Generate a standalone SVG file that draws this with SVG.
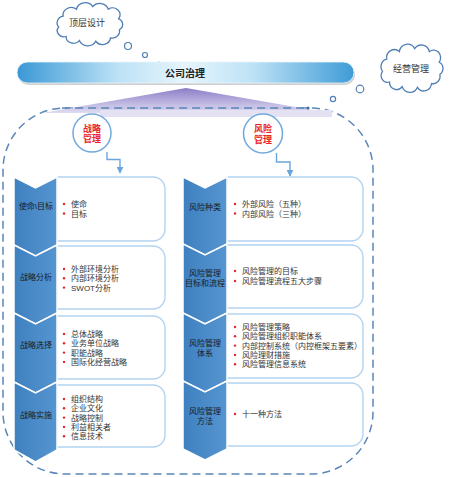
<svg xmlns="http://www.w3.org/2000/svg" width="450" height="477" viewBox="0 0 450 477">
<defs>
<style>
text{font-family:"Liberation Sans","Noto Sans CJK SC",sans-serif;}
.cloud{fill:#fff;stroke:#4f7fb5;stroke-width:1.3;}
.bub{fill:#fff;stroke:#4f7fb5;stroke-width:1.2;}
.dot{fill:#3f6fa5;}
.ct{font-size:9px;fill:#333;text-anchor:middle;dominant-baseline:central;}
.chev{fill:url(#chevG);stroke:#fff;stroke-width:1.5;}
.box{fill:#fff;stroke:#b4d4f0;stroke-width:1.4;}
.lab{font-size:8px;fill:#1a1a1a;text-anchor:middle;dominant-baseline:central;}
.item{font-size:8px;fill:#333;dominant-baseline:central;}
.bul{fill:#e8222a;}
.circ{fill:#fff;stroke:#72a9dd;stroke-width:1.5;}
.red{font-size:9px;font-weight:bold;fill:#e8222a;text-anchor:middle;dominant-baseline:central;}
.conn{fill:none;stroke:#6aa5dc;stroke-width:1.4;}
</style>
<linearGradient id="barG" x1="0" y1="0" x2="1" y2="0">
<stop offset="0" stop-color="#3a98d5"/>
<stop offset="0.3" stop-color="#bde2f6"/>
<stop offset="0.5" stop-color="#e6f5fc"/>
<stop offset="0.7" stop-color="#bde2f6"/>
<stop offset="1" stop-color="#3f9cd7"/>
</linearGradient>
<linearGradient id="triG" x1="0" y1="0" x2="0" y2="1">
<stop offset="0" stop-color="#7f6fc0"/>
<stop offset="1" stop-color="#dcd8f0"/>
</linearGradient>
<linearGradient id="chevG" x1="0" y1="0" x2="1" y2="0">
<stop offset="0" stop-color="#3f80c0"/>
<stop offset="1" stop-color="#5595d0"/>
</linearGradient>
<marker id="arr" viewBox="0 0 10 10" refX="9" refY="5" markerWidth="5" markerHeight="5" orient="auto">
<path d="M0,0 L10,5 L0,10 z" fill="#6aa5dc"/>
</marker>
<path id="cloudP" vector-effect="non-scaling-stroke" d="M20,50 A9,9 0 0 1 10,36 A10,10 0 0 1 16,20 A11,11 0 0 1 34,10 A12,12 0 0 1 56,6 A12,12 0 0 1 77,10 A10,10 0 0 1 91,24 A9,9 0 0 1 92,40 A10,10 0 0 1 80,52 A11,11 0 0 1 60,57 A12,12 0 0 1 38,56 A10,10 0 0 1 20,50 Z"/>
</defs>

<rect width="450" height="477" fill="#fff"/>

<!-- dashed boundary -->
<g id="boundary">
<rect x="3" y="108" width="370" height="366" rx="62" ry="62" fill="none" stroke="#5a87b8" stroke-width="1.5" stroke-dasharray="8,5"/>
</g>

<!-- purple triangle -->
<g id="fan">
<polygon points="186,88 42,113 330,113" fill="url(#triG)" opacity="0.9"/>
<rect x="100" y="110" width="232" height="7" fill="#e4e1f3"/>
<line x1="62" y1="108" x2="305" y2="108" stroke="#5a87b8" stroke-width="1.5" stroke-dasharray="8,5"/>
</g>

<!-- clouds -->
<g id="cloud-top">
<use href="#cloudP" class="cloud" transform="translate(51.3,2.5) scale(0.74,0.68)"/>
<text class="ct" x="87" y="23">顶层设计</text>
<circle class="bub" cx="128" cy="46" r="3.5"/>
<circle class="bub" cx="145" cy="55" r="2.5"/>
<circle class="dot" cx="159" cy="63" r="1.5"/>
</g>
<g id="cloud-ops">
<use href="#cloudP" class="cloud" transform="translate(375.5,44) scale(0.70,0.76)"/>
<text class="ct" x="411" y="69">经营管理</text>
<circle class="bub" cx="360" cy="89" r="3.8"/>
<circle class="bub" cx="333" cy="99" r="2.6"/>
<circle class="dot" cx="308" cy="108" r="1.5"/>
</g>

<!-- governance bar -->
<g id="bar">
<rect x="18" y="64" width="337" height="21" rx="10.5" fill="#cfcfcf"/>
<rect x="17" y="62" width="337" height="21" rx="10.5" fill="url(#barG)" stroke="#e8f4fb" stroke-width="0.8"/>
<text x="185" y="73" font-size="10" font-weight="bold" fill="#222" text-anchor="middle" dominant-baseline="central">公司治理</text>
</g>

<!-- circles -->
<g id="strategy">
<circle class="circ" cx="92" cy="133" r="19"/>
<text class="red" x="92" y="128.5">战略<tspan x="92" dy="10.5">管理</tspan></text>
</g>
<g id="risk">
<circle class="circ" cx="263" cy="133.5" r="19.5"/>
<text class="red" x="263" y="129">风险<tspan x="263" dy="10.5">管理</tspan></text>
</g>

<!-- connectors -->
<g id="connectors">
<path class="conn" d="M107,152 V159.5 H120 V173" marker-end="url(#arr)"/>
<path class="conn" d="M276.5,153 V162 H290 V176" marker-end="url(#arr)"/>
</g>

<!-- left column -->
<g id="s1">
<path class="box" d="M57,177 H153 A12,12 0 0 1 165,189 V229 A12,12 0 0 1 153,241 H57 Z"/>
<polygon class="chev" points="14,177 35.5,188 57,177 57,245 35.5,256 14,245"/>
<text class="lab" x="36" y="206">使命\目标</text>
<circle class="bul" cx="64" cy="204" r="1.2"/><circle class="bul" cx="64" cy="213.5" r="1.2"/>
<text class="item" x="71" y="204">使命<tspan x="71" dy="9.5">目标</tspan></text>
</g>
<g id="s2">
<path class="box" d="M57,246 H153 A12,12 0 0 1 165,258 V297 A12,12 0 0 1 153,309 H57 Z"/>
<polygon class="chev" points="14,245 35.5,256 57,245 57,313 35.5,324 14,313"/>
<text class="lab" x="36" y="277">战略分析</text>
<circle class="bul" cx="64" cy="269" r="1.2"/><circle class="bul" cx="64" cy="278.3" r="1.2"/><circle class="bul" cx="64" cy="287.6" r="1.2"/>
<text class="item" x="71" y="269">外部环境分析<tspan x="71" dy="9.3">内部环境分析</tspan><tspan x="71" dy="9.3">SWOT分析</tspan></text>
</g>
<g id="s3">
<path class="box" d="M57,316 H153 A12,12 0 0 1 165,328 V367 A12,12 0 0 1 153,379 H57 Z"/>
<polygon class="chev" points="14,313 35.5,324 57,313 57,382 35.5,393 14,382"/>
<text class="lab" x="36" y="345">战略选择</text>
<circle class="bul" cx="64" cy="334" r="1.2"/><circle class="bul" cx="64" cy="343.3" r="1.2"/><circle class="bul" cx="64" cy="352.6" r="1.2"/><circle class="bul" cx="64" cy="361.9" r="1.2"/>
<text class="item" x="71" y="334">总体战略<tspan x="71" dy="9.3">业务单位战略</tspan><tspan x="71" dy="9.3">职能战略</tspan><tspan x="71" dy="9.3">国际化经营战略</tspan></text>
</g>
<g id="s4">
<path class="box" d="M57,385 H153 A12,12 0 0 1 165,397 V435 A12,12 0 0 1 153,447 H57 Z"/>
<polygon class="chev" points="14,382 35.5,393 57,382 57,450 35.5,462 14,450"/>
<text class="lab" x="36" y="415">战略实施</text>
<circle class="bul" cx="64" cy="399" r="1.2"/><circle class="bul" cx="64" cy="408.3" r="1.2"/><circle class="bul" cx="64" cy="417.6" r="1.2"/><circle class="bul" cx="64" cy="426.9" r="1.2"/><circle class="bul" cx="64" cy="436.2" r="1.2"/>
<text class="item" x="71" y="399">组织结构<tspan x="71" dy="9.3">企业文化</tspan><tspan x="71" dy="9.3">战略控制</tspan><tspan x="71" dy="9.3">利益相关者</tspan><tspan x="71" dy="9.3">信息技术</tspan></text>
</g>

<!-- right column -->
<g id="r1">
<path class="box" d="M227,177 H351 A12,12 0 0 1 363,189 V229 A12,12 0 0 1 351,241 H227 Z"/>
<polygon class="chev" points="183,177 205,188 227,177 227,244 205,255 183,244"/>
<text class="lab" x="205" y="207">风险种类</text>
<circle class="bul" cx="235" cy="204" r="1.2"/><circle class="bul" cx="235" cy="213.5" r="1.2"/>
<text class="item" x="242" y="204">外部风险（五种）<tspan x="242" dy="9.5">内部风险（三种）</tspan></text>
</g>
<g id="r2">
<path class="box" d="M227,245 H351 A12,12 0 0 1 363,257 V296 A12,12 0 0 1 351,308 H227 Z"/>
<polygon class="chev" points="183,244 205,255 227,244 227,313 205,324 183,313"/>
<text class="lab" x="205" y="273">风险管理<tspan x="205" dy="10">目标和流程</tspan></text>
<circle class="bul" cx="235" cy="271" r="1.2"/><circle class="bul" cx="235" cy="281" r="1.2"/>
<text class="item" x="242" y="271">风险管理的目标<tspan x="242" dy="10">风险管理流程五大步骤</tspan></text>
</g>
<g id="r3">
<path class="box" d="M227,314 H351 A12,12 0 0 1 363,326 V366 A12,12 0 0 1 351,378 H227 Z"/>
<polygon class="chev" points="183,313 205,324 227,313 227,381 205,392 183,381"/>
<text class="lab" x="205" y="343">风险管理<tspan x="205" dy="10">体系</tspan></text>
<circle class="bul" cx="235" cy="327" r="1.2"/><circle class="bul" cx="235" cy="336.3" r="1.2"/><circle class="bul" cx="235" cy="345.6" r="1.2"/><circle class="bul" cx="235" cy="354.9" r="1.2"/><circle class="bul" cx="235" cy="364.2" r="1.2"/>
<text class="item" x="242" y="327">风险管理策略<tspan x="242" dy="9.3">风险管理组织职能体系</tspan><tspan x="242" dy="9.3">内部控制系统（内控框架五要素）</tspan><tspan x="242" dy="9.3">风险理财措施</tspan><tspan x="242" dy="9.3">风险管理信息系统</tspan></text>
</g>
<g id="r4">
<path class="box" d="M227,383 H351 A12,12 0 0 1 363,395 V434 A12,12 0 0 1 351,446 H227 Z"/>
<polygon class="chev" points="183,381 205,392 227,381 227,449 205,460 183,449"/>
<text class="lab" x="205" y="411">风险管理<tspan x="205" dy="10">方法</tspan></text>
<circle class="bul" cx="235" cy="414" r="1.2"/>
<text class="item" x="242" y="414">十一种方法</text>
</g>
</svg>
